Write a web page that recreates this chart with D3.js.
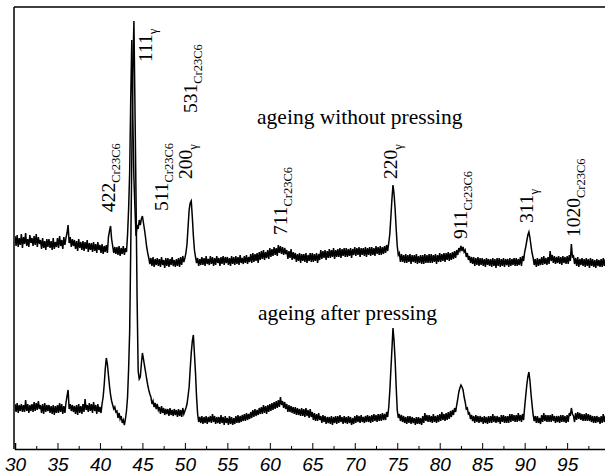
<!DOCTYPE html>
<html>
<head>
<meta charset="utf-8">
<script src="https://cdn.jsdelivr.net/npm/d3@7"></script>
<style>
  body { margin: 0; background: #fff; }
  svg { display: block; }
</style>
</head>
<body>
<script>
// XRD patterns, 2theta from 30 deg in 0.125 deg steps (one row per degree),
// intensity in a.u. with the upper curve already offset
const angleStart = 30;
const angleStep = 0.125;

const withoutPressing = [
  213,203,214,202,211,204,215,201,
  212,205,216,203,210,202,214,206,
  211,203,213,204,215,202,212,205,
  209,200,211,201,208,199,210,202,
  210,201,208,199,211,200,207,202,
  211,201,213,203,209,200,212,204,
  211,216,224,206,212,202,210,203,
  209,200,208,198,210,201,207,199,
  208,198,207,200,209,197,206,199,
  206,197,207,198,205,196,207,199,
  204,196,205,195,203,197,204,196,
  212,218,223,210,203,196,202,195,
  202,194,203,193,201,195,203,194,
  201,197,214,240,277,350,409,330,
  270,240,213,224,220,229,224,230,
  233,226,219,211,202,196,191,185,
  191,183,192,182,190,184,191,183,
  190,182,192,184,189,181,191,183,
  191,182,190,184,192,183,189,182,
  190,183,191,182,192,184,193,187,
  191,196,205,222,239,246,248,232,
  213,199,192,186,191,183,190,184,
  192,184,191,183,193,185,190,184,
  193,185,192,183,191,184,193,186,
  191,183,192,185,193,184,192,186,
  192,184,191,183,193,185,192,184,
  193,185,192,184,194,186,191,185,
  193,186,194,185,192,187,195,186,
  196,187,195,188,196,186,197,189,
  198,190,199,189,197,191,199,190,
  201,192,200,193,202,194,201,193,
  204,196,203,195,202,194,201,195,
  199,190,198,191,200,189,197,190,
  196,187,195,188,196,186,195,188,
  195,187,196,186,194,188,196,187,
  196,187,195,188,196,186,195,189,
  199,190,198,191,199,189,198,191,
  200,191,199,192,201,190,199,192,
  200,192,201,191,200,193,201,192,
  201,192,200,193,201,191,200,194,
  202,193,201,194,202,192,201,194,
  201,193,202,192,201,194,202,193,
  202,194,201,193,203,195,202,194,
  203,194,202,195,203,196,204,198,
  206,215,232,250,264,255,240,220,
  203,194,196,187,195,187,194,186,
  195,186,194,187,195,185,194,187,
  194,186,195,185,193,186,194,185,
  194,185,195,186,194,186,195,186,
  195,186,194,187,195,185,194,187,
  196,187,195,188,196,187,196,189,
  197,188,196,189,197,190,198,191,
  199,194,201,198,203,198,202,197,
  199,192,196,189,193,186,192,185,
  192,183,191,184,192,183,191,184,
  191,183,190,182,191,184,190,183,
  190,182,191,183,190,181,191,183,
  191,182,190,183,191,182,190,184,
  190,182,191,183,190,184,191,183,
  191,183,190,184,192,183,193,188,
  197,202,208,214,217,211,203,196,
  191,184,190,182,191,183,190,184,
  192,184,193,185,191,184,192,185,
  198,188,194,186,193,185,192,186,
  193,185,192,184,193,186,192,185,
  193,185,194,188,205,192,193,185,
  191,183,192,182,190,184,191,183,
  190,182,191,183,190,181,191,183,
  190,182,189,181,190,183,189,182,
  190,182,191,183,190,181,191,183
];

const afterPressing = [
  45,37,46,36,44,38,45,37,
  44,37,49,38,45,36,44,38,
  45,37,47,38,46,39,48,40,
  44,36,45,35,46,37,44,38,
  44,36,43,35,44,34,43,36,
  44,36,46,37,45,35,43,36,
  46,53,59,40,45,38,44,37,
  43,35,44,34,45,36,43,35,
  45,37,50,39,44,37,46,38,
  45,36,47,38,44,35,45,37,
  42,36,45,52,64,80,91,85,
  74,63,54,48,44,40,42,37,
  38,31,36,30,33,26,29,24,
  30,38,52,80,118,200,290,380,
  428,340,250,150,78,70,72,85,
  96,90,83,77,70,64,59,55,
  52,45,48,42,46,40,45,39,
  42,35,43,36,41,34,40,35,
  40,33,41,34,39,33,40,34,
  39,32,40,33,39,32,41,35,
  38,41,45,53,62,80,96,108,
  114,95,76,52,35,27,32,26,
  33,25,32,26,33,25,32,27,
  33,26,35,27,33,25,32,26,
  32,25,34,26,32,24,33,26,
  31,24,33,25,32,24,31,25,
  33,26,34,26,33,27,34,28,
  35,28,36,29,35,30,37,31,
  39,32,40,33,39,34,41,35,
  42,35,44,36,43,35,44,37,
  45,38,46,39,47,40,48,41,
  49,42,52,44,48,41,47,40,
  45,37,44,37,43,36,42,35,
  42,34,41,34,40,33,41,33,
  40,32,41,33,39,31,40,32,
  37,29,36,28,35,28,36,29,
  33,26,34,27,33,25,32,26,
  32,25,33,24,32,26,33,25,
  33,26,34,27,32,25,33,26,
  32,25,33,26,32,24,31,25,
  33,26,34,27,33,26,34,27,
  32,26,33,27,34,27,33,26,
  34,27,35,28,34,27,35,28,
  35,28,36,29,35,29,37,32,
  42,58,79,100,121,108,89,62,
  39,31,35,28,34,27,33,26,
  32,25,33,26,33,25,32,26,
  31,24,32,25,32,25,31,24,
  33,26,36,28,34,27,34,27,
  33,26,35,27,33,26,34,27,
  35,28,37,29,35,28,36,29,
  37,30,38,32,39,34,41,37,
  44,50,57,61,64,62,59,52,
  47,40,41,35,36,30,34,28,
  33,26,34,27,33,26,33,27,
  32,25,33,26,32,25,33,26,
  33,26,35,27,33,26,33,27,
  32,25,34,27,34,26,33,26,
  33,26,35,27,35,28,34,27,
  34,27,36,28,34,27,35,29,
  42,53,64,72,77,68,55,44,
  34,28,33,26,33,26,31,25,
  34,27,36,28,34,27,34,27,
  34,27,35,28,33,26,33,27,
  33,26,34,27,34,27,33,26,
  34,27,36,33,41,35,33,27,
  36,29,37,30,36,29,35,28,
  35,28,36,28,35,28,34,27,
  33,26,33,26,33,27,32,25,
  33,26,35,27,33,26,33,26
];

const majorTicks = [30,35,40,45,50,55,60,65,70,75,80,85,90,95,100];
const minorTicks = [32.5,37.5,42.5,47.5,52.5,57.5,62.5,67.5,72.5,77.5,82.5,87.5,92.5,97.5];
const tickLabels = ["30","35","40","45","50","55","60","65","70","75","80","85","90","95",""];

// peak indexing: hkl, phase subscript, anchor (2theta, intensity) of the rotated label
const peakHkl   = ["422","111","511","531","200","711","220","911","311","1020"];
const peakPhase = ["Cr23C6","γ","Cr23C6","Cr23C6","γ","Cr23C6","γ","Cr23C6","γ","Cr23C6"];
const labelAngle = [41.77,46.13,48.01,51.43,50.84,62.02,74.97,83.21,90.98,96.52];
const labelLevel = [237,387,238,336,270,214,270,210,226,212];

const curveNames = ["ageing without pressing","ageing after pressing"];
const curveNameAngle = [58.5,58.6];
const curveNameLevel = [325,129];

const width = 605, height = 476;
const plotLeft = 15, plotTop = 7, plotBottom = 449;

const x = d3.scaleLinear().domain([30, 100]).range([plotLeft, 609.6]);
const y = d3.scaleLinear().domain([0, plotBottom - plotTop]).range([plotBottom, plotTop]);

const svg = d3.select("body").append("svg")
    .attr("width", width)
    .attr("height", height);

svg.append("defs").append("clipPath").attr("id", "plot")
  .append("rect").attr("x", plotLeft).attr("y", plotTop)
  .attr("width", width - plotLeft).attr("height", plotBottom - plotTop);

const line = d3.line()
    .x((d, i) => x(angleStart + i * angleStep))
    .y(d => y(d));

[withoutPressing, afterPressing].forEach(series => {
  svg.append("path")
    .datum(series)
    .attr("clip-path", "url(#plot)")
    .attr("d", line)
    .attr("fill", "none")
    .attr("stroke", "#000")
    .attr("stroke-width", 1.5)
    .attr("stroke-linejoin", "miter");
});

// frame: left and top lines
svg.append("line").attr("x1", plotLeft - 1).attr("x2", plotLeft - 1).attr("y1", plotTop).attr("y2", plotBottom)
   .attr("stroke", "#000").attr("stroke-width", 1.5);
svg.append("line").attr("x1", plotLeft - 1).attr("x2", width).attr("y1", plotTop).attr("y2", plotTop)
   .attr("stroke", "#000").attr("stroke-width", 1.5);

// bottom axis, ticks inward
const xAxis = d3.axisBottom(x)
    .tickValues(majorTicks)
    .tickSize(-6)
    .tickPadding(9)
    .tickFormat((d, i) => tickLabels[i]);

const gx = svg.append("g").attr("transform", `translate(0,${plotBottom})`).call(xAxis);
gx.select(".domain").attr("stroke-width", 1.5);
gx.selectAll("text")
  .attr("font-family", "'Liberation Sans', Arial, sans-serif")
  .attr("font-style", "italic")
  .attr("font-size", 19)
  .attr("fill", "#000");

const gMinor = svg.append("g").attr("transform", `translate(0,${plotBottom})`)
  .call(d3.axisBottom(x).tickValues(minorTicks).tickSize(-3).tickFormat(""));
gMinor.select(".domain").remove();

// peak labels
const serif = "'Liberation Serif', 'Times New Roman', serif";
peakHkl.forEach((hkl, i) => {
  const t = svg.append("text")
    .attr("transform", `translate(${x(labelAngle[i])},${y(labelLevel[i])}) rotate(-90)`)
    .attr("font-family", serif)
    .attr("font-size", 19.5)
    .attr("fill", "#000");
  t.append("tspan").text(hkl);
  t.append("tspan").attr("dy", 5).attr("font-size", 12.5).text(peakPhase[i]);
});

// curve names
curveNames.forEach((name, i) => {
  svg.append("text")
    .attr("x", x(curveNameAngle[i]))
    .attr("y", y(curveNameLevel[i]))
    .attr("font-family", serif)
    .attr("font-size", 21.5)
    .attr("fill", "#000")
    .text(name);
});
</script>
</body>
</html>
